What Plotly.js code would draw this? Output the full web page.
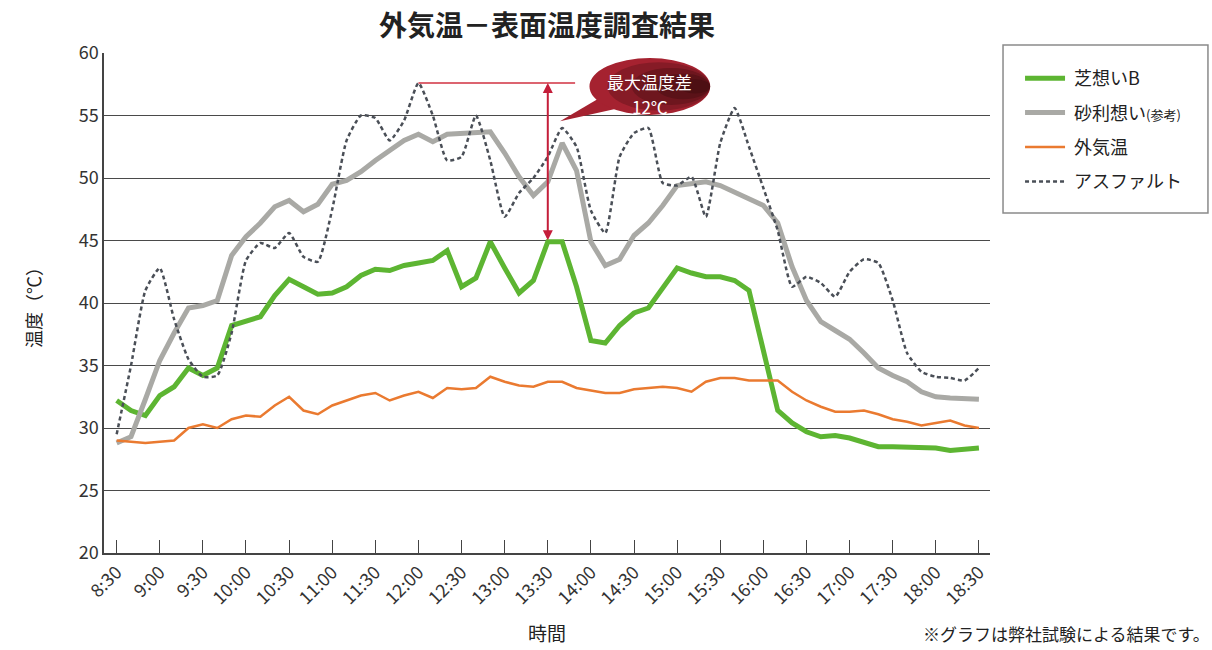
<!DOCTYPE html>
<html>
<head>
<meta charset="utf-8">
<script src="https://cdn.plot.ly/plotly-3.0.1.min.js"></script>
<style>html,body{margin:0;padding:0;background:#fff;}#chart{width:1212px;height:650px;}</style>
</head>
<body>
<div id="chart"></div>
<script>
// ---- data ----
const times = ['8:30','8:40','8:50','9:00','9:10','9:20','9:30','9:40','9:50','10:00','10:10','10:20','10:30','10:40','10:50','11:00','11:10','11:20','11:30','11:40','11:50','12:00','12:10','12:20','12:30','12:40','12:50','13:00','13:10','13:20','13:30','13:40','13:50','14:00','14:10','14:20','14:30','14:40','14:50','15:00','15:10','15:20','15:30','15:40','15:50','16:00','16:10','16:20','16:30','16:40','16:50','17:00','17:10','17:20','17:30','17:40','17:50','18:00','18:10','18:20','18:30'];
const tickLabels = ['8:30','9:00','9:30','10:00','10:30','11:00','11:30','12:00','12:30','13:00','13:30','14:00','14:30','15:00','15:30','16:00','16:30','17:00','17:30','18:00','18:30'];
const shibaB = [32.2,31.4,31.0,32.6,33.3,34.8,34.2,34.8,38.2,38.5,38.9,40.6,41.9,41.3,40.7,40.8,41.3,42.2,42.7,42.6,43.0,43.2,43.4,44.2,41.3,42.0,44.9,42.8,40.8,41.8,44.9,44.9,41.3,37.0,36.8,38.2,39.2,39.6,41.2,42.8,42.4,42.1,42.1,41.8,41.0,36.2,31.4,30.4,29.7,29.3,29.4,29.2,28.8,28.5,28.5,28.5,28.4,28.4,28.2,28.3,28.4];
const jariRef = [28.8,29.3,32.3,35.4,37.6,39.6,39.8,40.2,43.8,45.3,46.4,47.7,48.2,47.3,47.9,49.5,49.8,50.5,51.4,52.2,53.0,53.5,52.9,53.5,53.6,53.7,53.7,52.0,50.1,48.6,49.7,52.8,50.6,44.9,43.0,43.5,45.4,46.4,47.8,49.4,49.5,49.7,49.4,48.9,48.4,47.8,46.4,42.9,40.2,38.5,37.8,37.1,36.0,34.8,34.2,33.7,32.9,32.5,32.4,32.4,32.3];
const outdoor = [29.0,28.9,28.8,28.9,29.0,30.0,30.3,30.0,30.7,31.0,30.9,31.8,32.5,31.4,31.1,31.8,32.2,32.6,32.8,32.2,32.6,32.9,32.4,33.2,33.1,33.2,34.1,33.7,33.4,33.3,33.7,33.7,33.2,33.0,32.8,32.8,33.1,33.2,33.3,33.2,32.9,33.7,34.0,34.0,33.8,33.8,33.8,32.9,32.2,31.7,31.3,31.3,31.4,31.1,30.7,30.5,30.2,30.4,30.6,30.2,30.0];
const asphalt = [29.5,35.0,41.0,42.8,38.7,35.5,34.1,34.2,37.6,43.4,44.8,44.4,45.6,43.7,43.3,47.5,53.0,55.0,54.8,53.0,54.6,57.6,55.0,51.4,51.7,55.0,51.4,46.9,48.8,50.0,51.7,54.0,52.5,47.4,45.6,51.7,53.6,54.0,49.6,49.4,50.1,46.9,52.8,55.6,52.5,49.2,45.8,41.3,42.1,41.6,40.5,42.5,43.5,43.2,40.2,36.0,34.5,34.1,34.0,33.8,34.8];
const seriesNames = ['芝想いB', '砂利想い<span style="font-size:13px">(参考)</span>', '外気温', 'アスファルト'];

// ---- chart ----
const FONT = '"Noto Sans CJK JP", "Noto Sans", sans-serif';
const traces = [
  {x: times, y: shibaB, name: '\u00a0' + seriesNames[0], mode: 'lines', line: {color: '#5db532', width: 5}, legendgroup: 'a'},
  {x: times, y: jariRef, name: '\u00a0' + seriesNames[1], mode: 'lines', line: {color: '#a9a9a5', width: 5}, legendgroup: 'b'},
  {x: times, y: outdoor, name: '\u00a0' + seriesNames[2], mode: 'lines', line: {color: '#ea7a30', width: 2.5}, legendgroup: 'c'},
  {x: times, y: asphalt, name: '\u00a0' + seriesNames[3], mode: 'lines', line: {color: '#4a4f57', width: 2.5, dash: '4px,3px', shape: 'spline', smoothing: 0.5}, legendgroup: 'd'}
];

const peakIdx = 21, diffIdx = 30;

// callout bubble (decoration): base ellipse + darker ellipses anchored at its right end for a gradient look
const bub = {x0: 32.9, x1: 41.3, y0: 55.05, y1: 59.6};
const bubShapes = [
  {type: 'path', xref: 'x', yref: 'y', path: 'M 33.6 56.4 L 30.85 54.55 L 35.0 55.6 Z', fillcolor: '#a52230', line: {width: 0}},
  {type: 'circle', xref: 'x', yref: 'y', x0: bub.x0, x1: bub.x1, y0: bub.y0, y1: bub.y1, fillcolor: '#a52230', line: {width: 0}}
];
const ym = (bub.y0 + bub.y1) / 2, bw = bub.x1 - bub.x0, bh = (bub.y1 - bub.y0) / 2;
[0.85, 0.65, 0.45, 0.25].forEach(k => {
  bubShapes.push({type: 'circle', xref: 'x', yref: 'y', x0: bub.x1 - bw * k, x1: bub.x1, y0: ym - bh * k, y1: ym + bh * k,
                  fillcolor: '#1a0406', opacity: 0.22, line: {width: 0}});
});

const layout = {
  width: 1212, height: 650,
  margin: {l: 104, r: 222, t: 53, b: 97},
  paper_bgcolor: '#fff', plot_bgcolor: '#fff',
  font: {family: FONT, color: '#333'},
  title: {text: '<b>外気温－表面温度調査結果</b>', font: {size: 28, color: '#222'}, xref: 'paper', x: 0.5, xanchor: 'center', yref: 'container', y: 0.96, yanchor: 'middle'},
  showlegend: true,
  legend: {x: 1.0339, xanchor: 'left', y: 0.986, yanchor: 'top', bgcolor: 'rgba(0,0,0,0)', borderwidth: 0,
           font: {size: 18, color: '#222', family: FONT}, traceorder: 'grouped', tracegroupgap: 8, itemwidth: 40},
  xaxis: {type: 'category', range: [-0.88, 60.77], tickmode: 'array', tickvals: tickLabels, ticktext: tickLabels,
          tickangle: -45, ticks: 'inside', ticklen: 13, tickcolor: '#444', tickwidth: 1.2,
          showline: true, linecolor: '#444', linewidth: 1.5, showgrid: false, zeroline: false,
          tickfont: {size: 18, color: '#333'}, title: {text: '時間', font: {size: 19, color: '#222'}, standoff: 20}, automargin: false},
  yaxis: {range: [20, 60], tick0: 20, dtick: 5, showgrid: true, gridcolor: '#4a4a4a', gridwidth: 1.4,
          showline: true, linecolor: '#444', linewidth: 1.5, zeroline: false, ticks: '',
          tickfont: {size: 18, color: '#333'}, title: {text: '温度（℃）', font: {size: 18, color: '#222'}, standoff: 32}, automargin: false},
  shapes: [
    {type: 'rect', xref: 'paper', yref: 'paper', x0: 1.0147, x1: 1.246, y0: 0.68, y1: 1.016, line: {color: '#8a8a8a', width: 1.5}, fillcolor: 'rgba(0,0,0,0)'},
    {type: 'line', xref: 'x', yref: 'y', x0: peakIdx, x1: 31.9, y0: asphalt[peakIdx], y1: asphalt[peakIdx], line: {color: '#d03040', width: 1.5}}
  ].concat(bubShapes),
  annotations: [
    {x: diffIdx, y: asphalt[peakIdx], ax: diffIdx, ay: shibaB[diffIdx], xref: 'x', yref: 'y', axref: 'x', ayref: 'y',
     showarrow: true, arrowhead: 2, startarrowhead: 2, arrowside: 'end+start', arrowsize: 1, startarrowsize: 1, arrowwidth: 2, arrowcolor: '#c41e3a', text: ''},
    {x: 37.1, y: 57.7, xref: 'x', yref: 'y', text: '最大温度差', showarrow: false, font: {size: 17, color: '#fff', family: FONT}},
    {x: 37.1, y: 55.75, xref: 'x', yref: 'y', text: '12℃', showarrow: false, font: {size: 17, color: '#fff', family: FONT}},
    {x: 1.2505, y: -0.16, xref: 'paper', yref: 'paper', xanchor: 'right', yanchor: 'middle', text: '※グラフは弊社試験による結果です。', showarrow: false, font: {size: 17, color: '#222', family: FONT}}
  ]
};

Plotly.newPlot('chart', traces, layout, {displayModeBar: false, responsive: false});
</script>
</body>
</html>
